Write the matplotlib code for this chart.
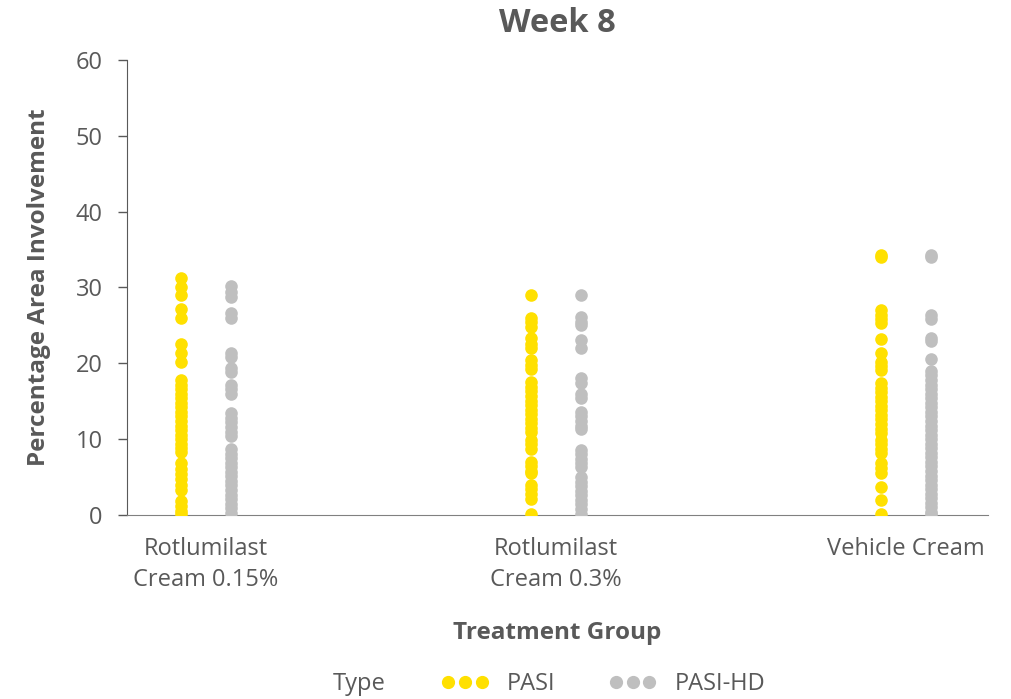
import matplotlib
matplotlib.use("Agg")
import matplotlib.pyplot as plt
from matplotlib.lines import Line2D

categories = ["Rotlumilast\nCream 0.15%", "Rotlumilast\nCream 0.3%", "Vehicle Cream"]
series_names = ["PASI", "PASI-HD"]

pasi_g1 = [31.2, 30.1, 29.0, 27.2, 26.0, 22.6, 21.4, 20.2, 17.8, 17.2, 16.6, 16.0, 15.4, 14.8,
           14.2, 13.6, 13.0, 12.4, 11.8, 11.2, 10.6, 10.0, 9.4, 8.8, 8.3, 6.8, 6.1, 5.4, 4.7,
           4.0, 3.3, 1.9, 1.2, 0.5, 0.1]
pasihd_g1 = [30.2, 29.4, 28.8, 26.6, 26.0, 21.4, 20.8, 19.4, 18.8, 17.2, 16.6, 16.0, 13.4,
             12.8, 12.2, 11.6, 11.0, 10.4, 8.7, 8.1, 7.5, 6.9, 6.3, 5.7, 5.1, 4.5, 3.9, 3.3,
             2.7, 2.1, 1.5, 0.9, 0.3]
pasi_g2 = [29.0, 26.0, 25.4, 24.8, 23.3, 22.6, 22.0, 20.4, 19.8, 19.2, 17.5, 16.9, 16.3,
           15.7, 15.1, 14.5, 13.9, 13.3, 12.7, 12.1, 11.5, 11.0, 9.9, 9.3, 8.7, 7.0, 6.4,
           5.8, 5.5, 4.0, 3.4, 2.8, 2.1, 0.2]
pasihd_g2 = [29.0, 26.1, 25.5, 25.0, 23.1, 22.0, 18.1, 17.4, 16.0, 15.4, 13.6, 13.0, 12.4,
             11.8, 11.3, 8.6, 8.0, 7.4, 6.8, 6.3, 5.0, 4.4, 3.8, 3.2, 2.6, 2.0, 1.4, 0.8, 0.2]
pasi_g3 = [34.0, 34.3, 27.0, 26.4, 25.8, 25.3, 23.2, 21.4, 20.2, 19.6, 19.1, 17.4, 16.8,
           16.2, 15.6, 15.0, 14.4, 13.8, 13.2, 12.6, 12.0, 11.4, 10.8, 9.9, 9.3, 8.7, 8.2,
           6.9, 6.2, 5.5, 3.7, 2.0, 0.2]
pasihd_g3 = [34.0, 34.3, 26.4, 25.8, 23.4, 23.0, 20.6, 19.0, 18.4, 17.8, 17.2, 16.6, 16.0,
             15.4, 14.8, 14.2, 13.6, 13.0, 12.4, 11.8, 11.2, 10.6, 10.0, 9.4, 8.8, 8.2, 7.6,
             7.0, 6.4, 5.8, 5.2, 4.6, 4.0, 3.4, 2.8, 2.2, 1.6, 1.0, 0.4, 0.1]

pasi = [pasi_g1, pasi_g2, pasi_g3]
pasihd = [pasihd_g1, pasihd_g2, pasihd_g3]
y_ticks = [0, 10, 20, 30, 40, 50, 60]

YELLOW = "#FFE000"
GRAY = "#BFBFBF"
TXT = "#595959"

plt.rcParams['font.family'] = ['Open Sans', 'DejaVu Sans']

fig = plt.figure(figsize=(10.12, 6.99), dpi=100)
ax = fig.add_axes([0.1255, 0.2632, 0.9763 - 0.1255, 0.9142 - 0.2632])

dodge = 0.0714
ms = 82
for i in range(len(categories)):
    ax.scatter([i - dodge] * len(pasi[i]), pasi[i], s=ms, color=YELLOW, linewidths=0, zorder=3)
    ax.scatter([i + dodge] * len(pasihd[i]), pasihd[i], s=ms, color=GRAY, linewidths=0, zorder=3)

ax.set_xlim(-0.226, 2.234)
ax.set_ylim(0, 60)
ax.set_yticks(y_ticks)
ax.set_xticks(range(len(categories)))
ax.set_xticklabels(categories, fontsize=17, color=TXT, linespacing=1.36)
ax.tick_params(axis='y', labelsize=17, labelcolor=TXT, color=TXT, length=6.5, width=1, pad=11)
ax.tick_params(axis='x', length=0, pad=16)
for s in ['top', 'right']:
    ax.spines[s].set_visible(False)
ax.spines['left'].set_color(TXT)
ax.spines['bottom'].set_color("#808080")

ax.set_title("Week 8", fontsize=23.5, fontweight='bold', color=TXT, pad=20)
ax.set_ylabel("Percentage Area Involvement", fontsize=17.5, fontweight='bold', color=TXT, labelpad=18)
ax.set_xlabel("Treatment Group", fontsize=17.5, fontweight='bold', color=TXT, labelpad=21)

fig.text(333 / 1012, 1 - 684 / 699, "Type", fontsize=17, color=TXT, va='center', ha='left')
h1 = Line2D([], [], linestyle='none', marker='o', markersize=8.5, color=YELLOW)
h2 = Line2D([], [], linestyle='none', marker='o', markersize=8.5, color=GRAY)
leg = fig.legend([h1, h2], series_names, loc='center left',
                 bbox_to_anchor=(0.436, 1 - 684 / 699),
                 ncol=2, frameon=False, numpoints=3, fontsize=17, handlelength=2.03,
                 handletextpad=0.75, columnspacing=2.25, labelcolor=TXT,
                 borderpad=0, borderaxespad=0)

fig.savefig("out.png", dpi=100)
